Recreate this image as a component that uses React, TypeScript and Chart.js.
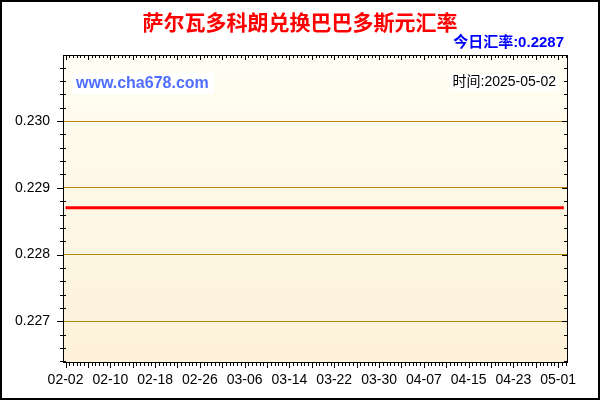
import { useEffect, useRef } from "react";
import { Chart, registerables } from "chart.js";

Chart.register(...registerables);

// textos do gráfico
const title = "萨尔瓦多科朗兑换巴巴多斯元汇率";
const todayText = "今日汇率:0.2287";
const siteText = "www.cha678.com";
const timeText = "时间:2025-05-02";

// datas (uma por dia)
const dates = [
  "02-02", "02-03", "02-04", "02-05", "02-06", "02-07", "02-08", "02-09", "02-10", "02-11",
  "02-12", "02-13", "02-14", "02-15", "02-16", "02-17", "02-18", "02-19", "02-20", "02-21",
  "02-22", "02-23", "02-24", "02-25", "02-26", "02-27", "02-28", "03-01", "03-02", "03-03",
  "03-04", "03-05", "03-06", "03-07", "03-08", "03-09", "03-10", "03-11", "03-12", "03-13",
  "03-14", "03-15", "03-16", "03-17", "03-18", "03-19", "03-20", "03-21", "03-22", "03-23",
  "03-24", "03-25", "03-26", "03-27", "03-28", "03-29", "03-30", "03-31", "04-01", "04-02",
  "04-03", "04-04", "04-05", "04-06", "04-07", "04-08", "04-09", "04-10", "04-11", "04-12",
  "04-13", "04-14", "04-15", "04-16", "04-17", "04-18", "04-19", "04-20", "04-21", "04-22",
  "04-23", "04-24", "04-25", "04-26", "04-27", "04-28", "04-29", "04-30", "05-01", "05-02",
];

// taxa de câmbio diária
const rates = [
  0.2287, 0.2287, 0.2287, 0.2287, 0.2287, 0.2287, 0.2287, 0.2287, 0.2287, 0.2287,
  0.2287, 0.2287, 0.2287, 0.2287, 0.2287, 0.2287, 0.2287, 0.2287, 0.2287, 0.2287,
  0.2287, 0.2287, 0.2287, 0.2287, 0.2287, 0.2287, 0.2287, 0.2287, 0.2287, 0.2287,
  0.2287, 0.2287, 0.2287, 0.2287, 0.2287, 0.2287, 0.2287, 0.2287, 0.2287, 0.2287,
  0.2287, 0.2287, 0.2287, 0.2287, 0.2287, 0.2287, 0.2287, 0.2287, 0.2287, 0.2287,
  0.2287, 0.2287, 0.2287, 0.2287, 0.2287, 0.2287, 0.2287, 0.2287, 0.2287, 0.2287,
  0.2287, 0.2287, 0.2287, 0.2287, 0.2287, 0.2287, 0.2287, 0.2287, 0.2287, 0.2287,
  0.2287, 0.2287, 0.2287, 0.2287, 0.2287, 0.2287, 0.2287, 0.2287, 0.2287, 0.2287,
  0.2287, 0.2287, 0.2287, 0.2287, 0.2287, 0.2287, 0.2287, 0.2287, 0.2287, 0.2287,
];

// rótulos dos eixos
const xLabelEvery = 8;
const yTicks = [0.227, 0.228, 0.229, 0.23];

const SANS = '"Liberation Sans", Arial, "Noto Sans CJK SC", sans-serif';

// fundo, moldura, marcas dos eixos e textos
const decor = {
  id: "decor",
  beforeDraw(chart: any) {
    const { ctx, chartArea: a, width, height } = chart;
    ctx.save();
    ctx.fillStyle = "#ffffff";
    ctx.fillRect(0, 0, width, height);
    const g = ctx.createLinearGradient(0, a.top, 0, a.bottom);
    g.addColorStop(0, "#FFFEF3");
    g.addColorStop(1, "#FDF1D8");
    ctx.fillStyle = g;
    ctx.fillRect(a.left, a.top, a.right - a.left, a.bottom - a.top);
    ctx.restore();
  },
  afterDraw(chart: any) {
    const { ctx, chartArea: a, width, height } = chart;
    const xs = chart.scales.x;
    const ys = chart.scales.y;
    ctx.save();

    // borda externa
    ctx.strokeStyle = "#000";
    ctx.lineWidth = 2;
    ctx.strokeRect(1, 1, width - 2, height - 2);

    // moldura da área do gráfico
    ctx.lineWidth = 1;
    ctx.strokeRect(a.left + 0.5, a.top + 0.5, a.right - a.left - 1, a.bottom - a.top);

    ctx.beginPath();
    // marcas do eixo x (a cada 2/3 de dia, maiores a cada 4 dias)
    for (let k = Math.ceil(xs.min * 1.5); k <= Math.floor(xs.max * 1.5); k++) {
      const px = Math.round(xs.getPixelForValue(k / 1.5)) + 0.5;
      const major = k % 6 === 0;
      ctx.moveTo(px, a.bottom);
      ctx.lineTo(px, a.bottom + (major ? 6 : 4));
      ctx.moveTo(px, a.top);
      ctx.lineTo(px, a.top + (major ? 5 : 3));
    }
    // marcas do eixo y (a cada 0.0002)
    for (let k = Math.ceil(ys.min / 0.0002 - 1e-6); k * 0.0002 <= ys.max + 1e-9; k++) {
      const py = Math.round(ys.getPixelForValue(k * 0.0002)) + 0.5;
      const major = k % 5 === 0;
      ctx.moveTo(a.left - (major ? 6 : 3), py);
      ctx.lineTo(a.left + (major ? 0 : 3), py);
      ctx.moveTo(a.right, py);
      ctx.lineTo(a.right - (major ? 6 : 4), py);
    }
    ctx.stroke();

    // título
    ctx.textBaseline = "middle";
    ctx.fillStyle = "#FF0000";
    ctx.font = 'bold 21px "Noto Sans CJK SC", sans-serif';
    ctx.textAlign = "center";
    ctx.fillText(title, 300, 22);

    // taxa do dia
    ctx.fillStyle = "#0000FF";
    ctx.font = "bold 15px " + SANS;
    ctx.textAlign = "right";
    ctx.fillText(todayText, 564, 43);

    // site
    ctx.fillStyle = "#ffffff";
    ctx.fillRect(73, 73, 141, 21);
    ctx.fillStyle = "#4F6EFF";
    ctx.font = "bold 16px " + SANS;
    ctx.textAlign = "left";
    ctx.fillText(siteText, 76, 84);

    // data
    ctx.font = "14px " + SANS;
    const tw = ctx.measureText(timeText).width;
    ctx.fillStyle = "#ffffff";
    ctx.fillRect(556 - tw - 3, 74, tw + 5, 17);
    ctx.fillStyle = "#000";
    ctx.textAlign = "right";
    ctx.fillText(timeText, 556, 82);

    ctx.restore();
  },
};

export default function App() {
  const canvasRef = useRef<HTMLCanvasElement | null>(null);
  const chartRef = useRef<Chart | null>(null);

  useEffect(() => {
    if (chartRef.current) chartRef.current.destroy();
    if (!canvasRef.current) return;

    chartRef.current = new Chart(canvasRef.current, {
      type: "line",
      data: {
        datasets: [
          {
            data: rates.map((v, i) => ({ x: i, y: v })),
            borderColor: "#FF0000",
            borderWidth: 3,
            pointRadius: 0,
            tension: 0,
          },
        ],
      },
      options: {
        animation: false,
        responsive: false,
        devicePixelRatio: 1,
        layout: { padding: { top: 55, right: 32, left: 0, bottom: 0 } },
        plugins: { legend: { display: false }, tooltip: { enabled: false } },
        scales: {
          x: {
            type: "linear",
            min: -0.45,
            max: 89.75,
            afterBuildTicks: (s: any) => {
              s.ticks = dates
                .map((_, i) => i)
                .filter((i) => i % xLabelEvery === 0)
                .map((i) => ({ value: i }));
            },
            afterFit: (s: any) => {
              s.height = 38;
            },
            grid: { display: false, drawTicks: false },
            border: { display: false },
            ticks: {
              autoSkip: false,
              maxRotation: 0,
              padding: 10,
              color: "#000",
              font: { family: SANS, size: 14 },
              callback: (v: any) => dates[v] ?? "",
            },
          },
          y: {
            min: 0.22639,
            max: 0.23099,
            afterBuildTicks: (s: any) => {
              s.ticks = yTicks.map((v) => ({ value: v }));
            },
            afterFit: (s: any) => {
              s.width = 63;
            },
            grid: { color: "#B8860B", lineWidth: 1, drawTicks: false },
            border: { display: false },
            ticks: {
              padding: 13,
              color: "#000",
              font: { family: SANS, size: 14 },
              callback: (v: any) => Number(v).toFixed(3),
            },
          },
        },
      },
      plugins: [decor],
    });

    return () => {
      if (chartRef.current) {
        chartRef.current.destroy();
        chartRef.current = null;
      }
    };
  }, []);

  return (
    <div style={{ position: "fixed", left: 0, top: 0, width: 600, height: 400 }}>
      <canvas ref={canvasRef} width={600} height={400}></canvas>
    </div>
  );
}
